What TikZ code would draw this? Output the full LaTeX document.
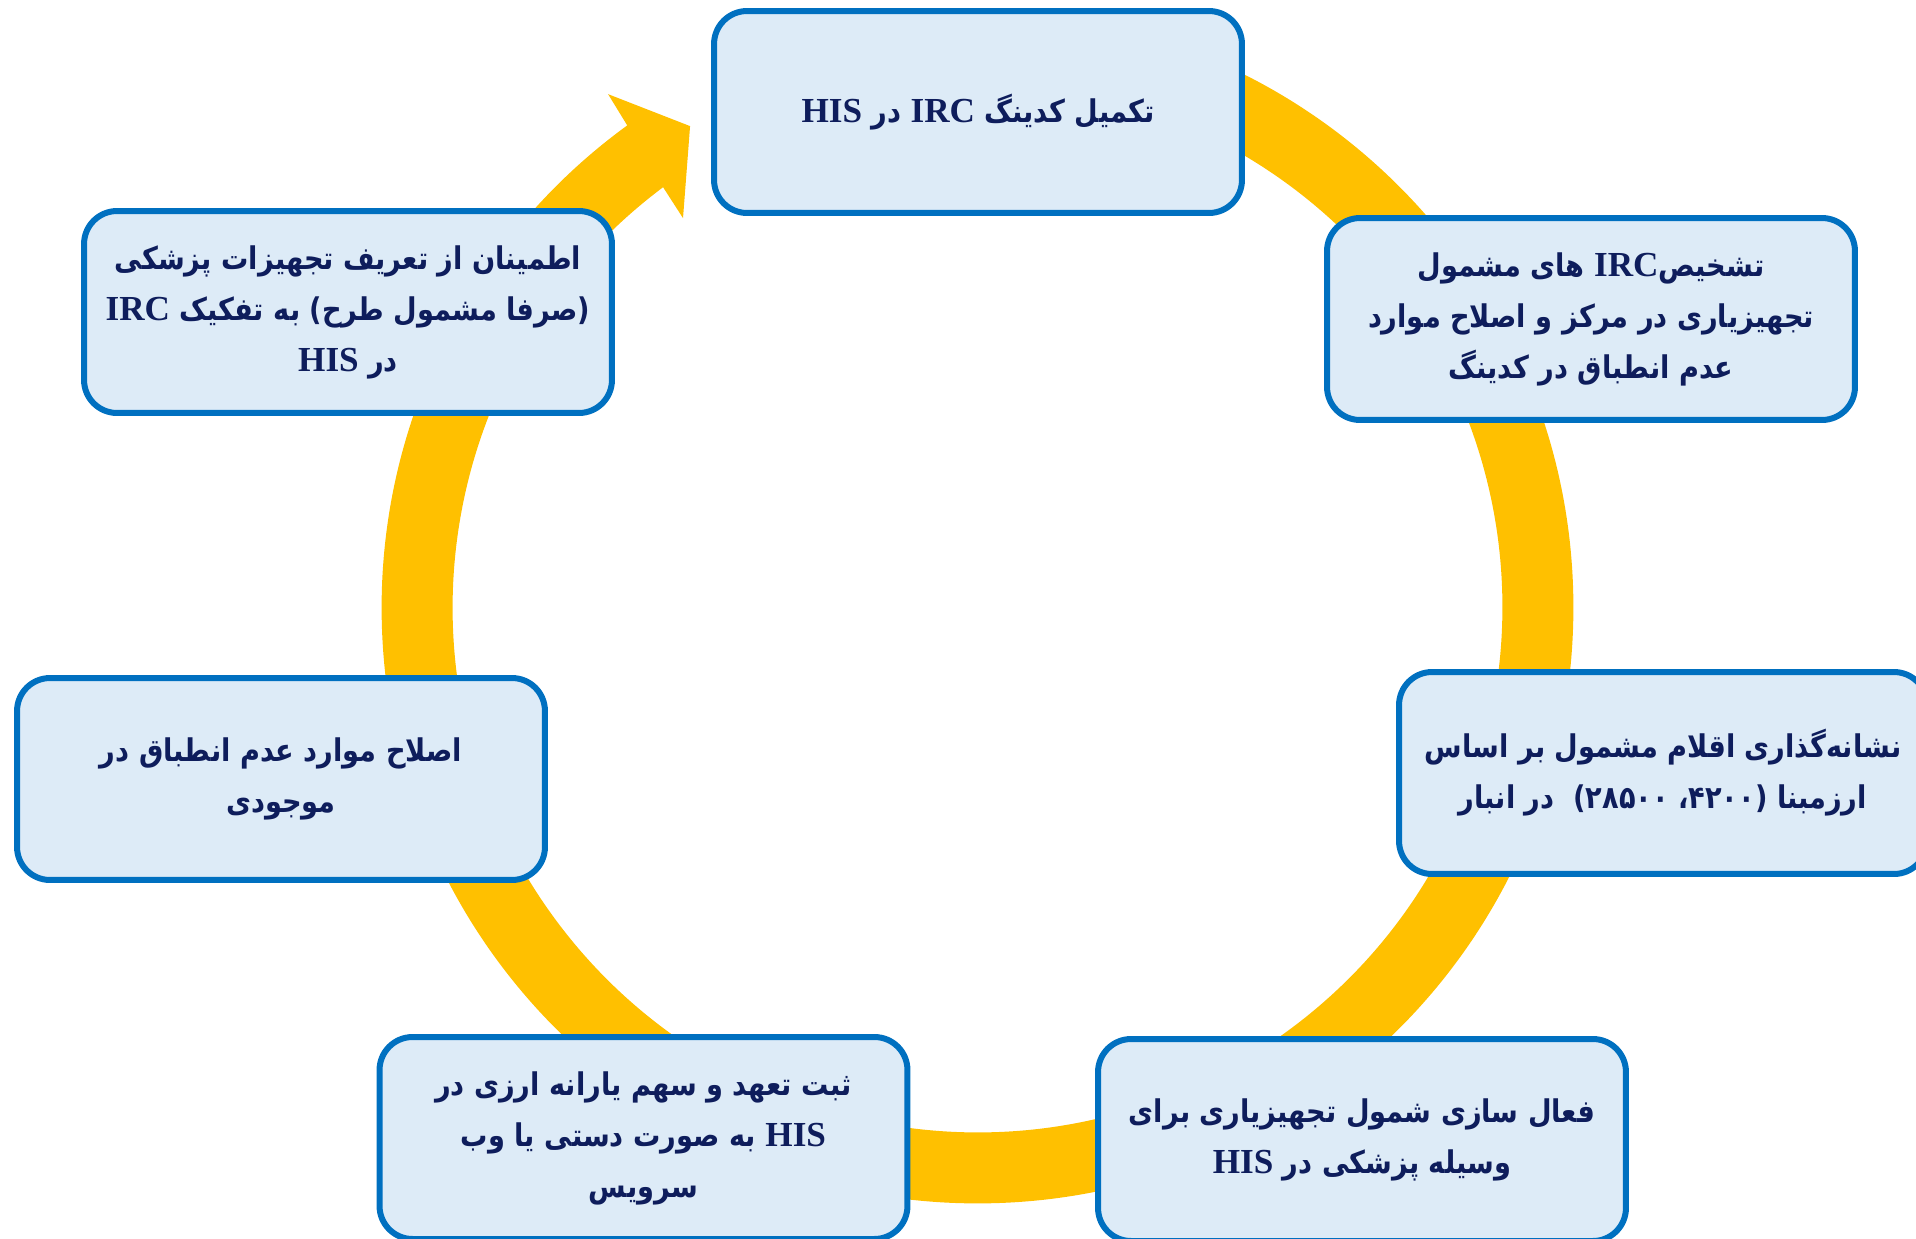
\documentclass[tikz,border=0pt]{standalone}
\usepackage{fontspec}
\TeXXeTstate=1
\newfontfamily\persianfont[Script=Arabic, FakeStretch=0.87]{DejaVu Sans}
\newfontfamily\latinfont{Liberation Serif}
% Latin words set left to right inside the Persian lines
\newcommand{\lt}[1]{\beginL{\latinfont\bfseries\fontsize{20}{29}\selectfont #1}\endL}
\definecolor{ringyellow}{HTML}{FFC000}
\definecolor{boxblue}{HTML}{0070C0}
\definecolor{boxfill}{HTML}{DDEBF7}
\definecolor{textnavy}{HTML}{0E1D5C}
\tikzset{
  stepbox/.style={draw=boxblue, fill=boxfill, line width=0.12cm,
    rounded corners=0.66cm, minimum width=10.56cm, minimum height=4.04cm,
    inner sep=0pt, align=center, text=textnavy,
    font=\persianfont\bfseries\fontsize{17.8}{29}\selectfont},
}
\begin{document}
\begin{tikzpicture}[x=0.02cm,y=0.02cm]
\clip (0,0) rectangle (1916,-1238);
% circular arrow running clockwise, head pointing at the first step
\begin{scope}[shift={(977.5,-607.5)}]
  \fill[ringyellow] (90:11.92cm) arc[start angle=90, end angle=-234, radius=11.92cm]
    -- (-234.26:12.652cm) -- (-239.16:11.216cm) -- (-232.9:9.766cm)
    -- (-233.2:10.5cm) arc[start angle=-233.2, end angle=90, radius=10.5cm] -- cycle;
\end{scope}
% the seven steps
\node[stepbox] (s1) at (978,-112) {\beginR تکمیل کدینگ \lt{IRC} در \lt{HIS}\endR};
\node[stepbox] (s2) at (1591,-319) {\beginR تشخیص\lt{IRC} های مشمول\endR\\
  \beginR تجهیزیاری در مرکز و اصلاح موارد\endR\\
  \beginR عدم انطباق در کدینگ\endR};
\node[stepbox] (s3) at (1663,-773) {\beginR نشانه‌گذاری اقلام مشمول بر اساس\endR\\
  \beginR ارزمبنا (۴۲۰۰، ۲۸۵۰۰)\ \ در انبار\endR};
\node[stepbox] (s4) at (1362,-1140) {\beginR فعال سازی شمول تجهیزیاری برای\endR\\
  \beginR وسیله پزشکی در \lt{HIS}\endR};
\node[stepbox] (s5) at (643.5,-1138) {\beginR ثبت تعهد و سهم یارانه ارزی در\endR\\
  \beginR \lt{HIS} به صورت دستی یا وب\endR\\
  \beginR سرویس\endR};
\node[stepbox] (s6) at (281,-779) {\beginR اصلاح موارد عدم انطباق در\endR\\
  \beginR موجودی\endR};
\node[stepbox] (s7) at (348,-312) {\beginR اطمینان از تعریف تجهیزات پزشکی\endR\\
  \beginR (صرفا مشمول طرح) به تفکیک \lt{IRC}\endR\\
  \beginR در \lt{HIS}\endR};
\end{tikzpicture}
\end{document}
